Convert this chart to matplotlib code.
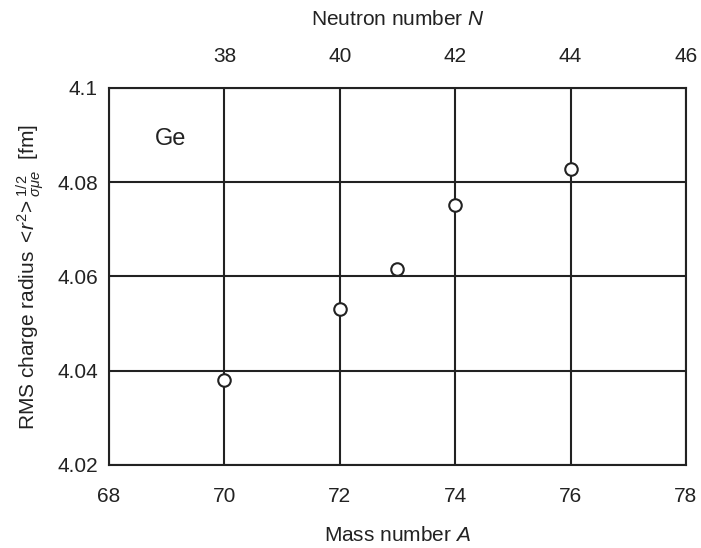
import matplotlib
matplotlib.use("Agg")
import matplotlib.pyplot as plt
from matplotlib import font_manager

names = {f.name for f in font_manager.fontManager.ttflist}
fam = 'Liberation Sans Narrow' if 'Liberation Sans Narrow' in names else 'Liberation Sans'
plt.rcParams['font.family'] = [fam, 'DejaVu Sans']
plt.rcParams['mathtext.fontset'] = 'custom'
plt.rcParams['mathtext.rm'] = fam
plt.rcParams['mathtext.it'] = fam + ':italic'
plt.rcParams['mathtext.sf'] = fam

mass_number = [70, 72, 73, 74, 76]
radius = [4.038, 4.0532, 4.0615, 4.0751, 4.0827]
x_ticks = [68, 70, 72, 74, 76, 78]
y_ticks = [4.02, 4.04, 4.06, 4.08, 4.1]
y_tick_labels = ['4.02', '4.04', '4.06', '4.08', '4.1']
top_ticks_A = [70, 72, 74, 76, 78]
top_tick_labels = ['38', '40', '42', '44', '46']

fig = plt.figure(figsize=(7.01, 5.48), dpi=100)
ax = fig.add_axes([0.1555, 0.1515, 0.823, 0.688])
ax.set_xlim(68, 78)
ax.set_ylim(4.02, 4.1)
ax.set_xticks(x_ticks)
ax.set_yticks(y_ticks)
ax.set_yticklabels(y_tick_labels)
ax.tick_params(length=0, labelsize=15, pad=8, colors='#222222')
ax.tick_params(axis='x', pad=16)
ax.grid(True, color='#222222', linewidth=1.5)
ax.set_axisbelow(True)
for s in ax.spines.values():
    s.set_linewidth(1.5)
    s.set_color('#222222')

ax.plot(mass_number, radius, linestyle='none', marker='o', markersize=9,
        markerfacecolor='white', markeredgecolor='#222222', markeredgewidth=1.5, zorder=3)

ax.text(69.06, 4.0892, 'Ge', fontsize=17, ha='center', va='center', color='#222222')

ax.set_xlabel('Mass number $\\mathit{A}$', fontsize=15, labelpad=14, color='#222222')
ax.set_ylabel(r'RMS charge radius $<\!\mathit{r}^2\!>^{1/2}_{\sigma\mu e}$  [fm]', fontsize=15,
              labelpad=8, color='#222222')

top = ax.twiny()
top.set_xlim(ax.get_xlim())
top.set_xticks(top_ticks_A)
top.set_xticklabels(top_tick_labels)
top.tick_params(length=0, labelsize=15, pad=16, colors='#222222')
top.set_xlabel('Neutron number $\\mathit{N}$', fontsize=15, labelpad=16, color='#222222')
for s in top.spines.values():
    s.set_visible(False)

fig.savefig('out.png', dpi=100)
